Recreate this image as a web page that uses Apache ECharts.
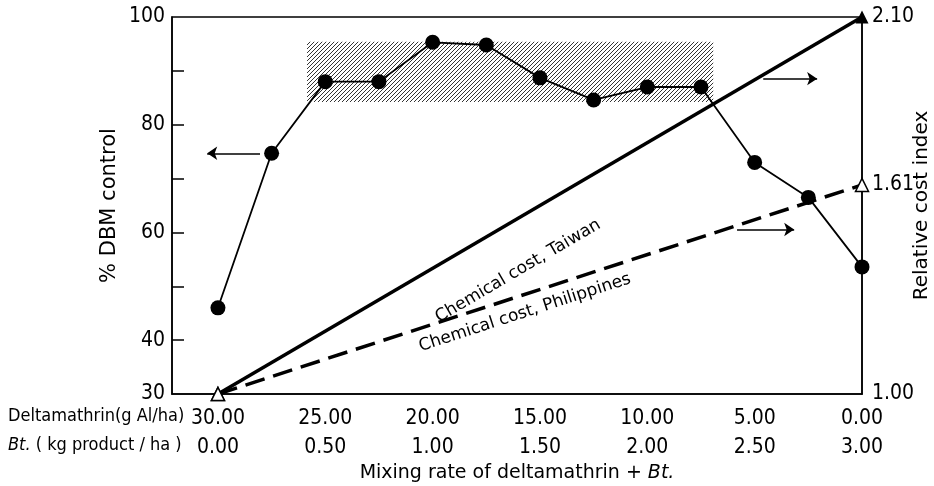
<!DOCTYPE html>
<html><head><meta charset="utf-8">
<script src="https://cdn.jsdelivr.net/npm/echarts@6/dist/echarts.min.js"></script>
<style>html,body{margin:0;padding:0;background:#fff}#c{width:934px;height:486px}</style>
</head><body><div id="c"></div>
<script>
// ---- data ----
const deltaRates = [30, 27.5, 25, 22.5, 20, 17.5, 15, 12.5, 10, 7.5, 5, 2.5, 0];
const dbmControl = [46, 74.7, 88, 88, 95.3, 94.8, 88.7, 84.6, 87, 87, 73, 66.5, 53.6];
const deltaTicks = [30, 25, 20, 15, 10, 5, 0];
const deltaTickLabels = ['30.00', '25.00', '20.00', '15.00', '10.00', '5.00', '0.00'];
const btTickLabels = ['0.00', '0.50', '1.00', '1.50', '2.00', '2.50', '3.00'];
const dbmTicks = [30, 40, 60, 80, 100];
const dbmMinorTicks = [40, 50, 60, 70, 80, 90];
const costTicks = [1.00, 1.61, 2.10];
const costTaiwan = [[30, 1.00], [0, 2.10]];
const costPhilippines = [[30, 1.00], [0, 1.61]];
const targetBand = [[25.85, 95.4], [6.93, 84.2]];

const F = '"DejaVu Sans Condensed", "DejaVu Sans", sans-serif';
const F2 = '"DejaVu Sans", sans-serif';

function hatch() {
  const c = document.createElement('canvas');
  c.width = 4; c.height = 4;
  const g = c.getContext('2d');
  g.strokeStyle = '#333'; g.lineWidth = 1;
  g.beginPath();
  g.moveTo(0, 4); g.lineTo(4, 0);
  g.moveTo(-1, 1); g.lineTo(1, -1);
  g.moveTo(3, 5); g.lineTo(5, 3);
  g.stroke();
  return c;
}

const openTri = { color: '#fff', borderColor: '#000', borderWidth: 1.5 };
const arrowLine = { color: '#000', width: 1.5, type: 'solid' };
const hiddenLine = { color: 'rgba(0,0,0,0)', width: 0 };
const lineLabel = { show: true, position: 'insideStartBottom', color: '#000', fontFamily: F2, fontSize: 17, opacity: 1 };

const chart = echarts.init(document.getElementById('c'), null, { renderer: 'canvas' });
chart.setOption({
  animation: false,
  backgroundColor: '#fff',
  grid: { left: 172, right: 72, top: 17, bottom: 92, show: true, borderColor: '#000', borderWidth: 1.5, outerBoundsMode: 'none', containLabel: false },
  xAxis: {
    type: 'value', inverse: true, min: 0, max: 32.14,
    axisLine: { show: true, onZero: false, lineStyle: { color: '#000', width: 1.5 } },
    axisTick: { show: false }, splitLine: { show: false },
    axisLabel: {
      customValues: deltaTicks, color: '#000', fontFamily: F, fontSize: 21, lineHeight: 29, margin: 10,
      formatter: v => { const i = deltaTicks.indexOf(v); return i < 0 ? '' : deltaTickLabels[i] + '\n' + btTickLabels[i]; }
    },
    name: 'Mixing rate of deltamathrin + {i|Bt.}', nameLocation: 'middle', nameGap: 70, nameMoveOverlap: false,
    nameTextStyle: { color: '#000', fontFamily: F2, fontSize: 19, rich: { i: { fontStyle: 'italic', fontFamily: F2, fontSize: 19, color: '#000' } } }
  },
  yAxis: [{
    type: 'value', min: 30, max: 100, position: 'left',
    axisLine: { show: true, onZero: false, lineStyle: { color: '#000', width: 1.5 } },
    axisTick: { show: true, inside: true, length: 12, customValues: dbmMinorTicks, lineStyle: { color: '#000', width: 1.5 } },
    axisLabel: { customValues: dbmTicks, color: '#000', fontFamily: F, fontSize: 21, margin: 7 },
    splitLine: { show: false },
    name: '% DBM control', nameLocation: 'middle', nameRotate: 90, nameGap: 52, nameMoveOverlap: false,
    nameTextStyle: { color: '#000', fontFamily: F2, fontSize: 21 }
  }, {
    type: 'value', min: 1, max: 2.1, position: 'right',
    axisLine: { show: true, onZero: false, lineStyle: { color: '#000', width: 1.5 } },
    axisTick: { show: false }, splitLine: { show: false },
    axisLabel: { customValues: costTicks, color: '#000', fontFamily: F, fontSize: 21, margin: 10, formatter: v => v.toFixed(2) },
    name: 'Relative cost index', nameLocation: 'middle', nameRotate: 90, nameGap: 50, nameMoveOverlap: false,
    nameTextStyle: { color: '#000', fontFamily: F2, fontSize: 20 }
  }],
  graphic: [
    { type: 'text', left: 8, top: 407, style: { text: 'Deltamathrin(g Al/ha)', font: '18px ' + F, fill: '#000' } },
    { type: 'text', left: 8, top: 436, style: { text: '{i|Bt.} ( kg product / ha )', font: '18px ' + F, fill: '#000',
      rich: { i: { fontStyle: 'italic', fontFamily: F, fontSize: 18 } } } }
  ],
  series: [{
    name: 'Taiwan', type: 'line', yAxisIndex: 1, clip: false, z: 3,
    data: [
      { value: costTaiwan[0], symbol: 'triangle', itemStyle: openTri },
      { value: costTaiwan[1], symbol: 'triangle', itemStyle: { color: '#000' } }
    ],
    symbolSize: 13,
    lineStyle: { color: '#000', width: 3.5 },
    markLine: {
      silent: true, symbol: ['none', 'arrow'], symbolSize: 10,
      label: { show: false },
      lineStyle: arrowLine,
      data: [
        [{ coord: costTaiwan[0], lineStyle: hiddenLine, symbol: 'none', label: Object.assign({ formatter: 'Chemical cost, Taiwan', distance: [227, 37] }, lineLabel) },
         { coord: costTaiwan[1], symbol: 'none' }],
        [{ coord: [4.6, 1.92] }, { coord: [2.09, 1.92] }]
      ]
    }
  }, {
    name: 'Philippines', type: 'line', yAxisIndex: 1, clip: false, z: 4,
    data: [
      { value: costPhilippines[0], symbol: 'triangle', itemStyle: openTri },
      { value: costPhilippines[1], symbol: 'triangle', itemStyle: openTri }
    ],
    symbolSize: 13,
    lineStyle: { color: '#000', width: 3.5, type: [20, 9] },
    markLine: {
      silent: true, symbol: ['none', 'arrow'], symbolSize: 10,
      label: { show: false },
      lineStyle: arrowLine,
      data: [
        [{ coord: costPhilippines[0], lineStyle: hiddenLine, symbol: 'none', label: Object.assign({ formatter: 'Chemical cost, Philippines', distance: [206, 9] }, lineLabel) },
         { coord: costPhilippines[1], symbol: 'none' }],
        [{ coord: [5.82, 1.48] }, { coord: [3.16, 1.48] }]
      ]
    }
  }, {
    name: 'DBM', type: 'line', yAxisIndex: 0, clip: false, z: 5,
    data: deltaRates.map((x, i) => [x, dbmControl[i]]),
    symbol: 'circle', symbolSize: 15,
    itemStyle: { color: '#000' },
    lineStyle: { color: '#000', width: 1.8 },
    markArea: {
      silent: true,
      itemStyle: { color: { image: hatch(), repeat: 'repeat' } },
      data: [[{ coord: targetBand[0] }, { coord: targetBand[1] }]]
    },
    markLine: {
      silent: true, symbol: ['none', 'arrow'], symbolSize: 10,
      data: [[{ coord: [28.04, 74.7] }, { coord: [30.5, 74.7] }]],
      label: { show: false },
      lineStyle: arrowLine
    }
  }]
});
</script></body></html>
